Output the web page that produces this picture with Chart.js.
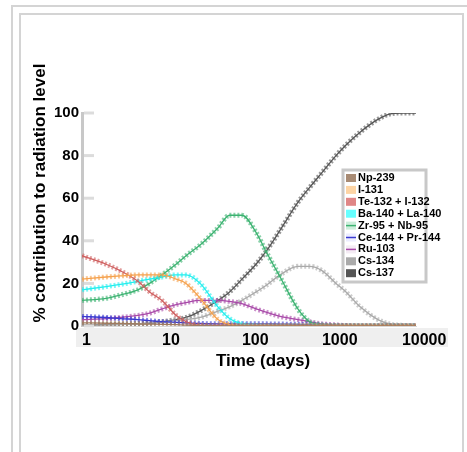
<!DOCTYPE html>
<html>
<head>
<meta charset="utf-8">
<script src="https://cdn.jsdelivr.net/npm/chart.js@4"></script>
<style>
  body { margin: 0; background: #fff; overflow: hidden; }
  .frame1 { position: absolute; left: 11px; top: 5px; width: 470px; height: 470px; border-left: 2px solid #d4d4d4; border-top: 2px solid #d4d4d4; }
  .frame2 { position: absolute; left: 19px; top: 13px; width: 441px; height: 460px; border: 2px solid #d4d4d4; }
  .wrap { position: absolute; left: 0; top: 0; width: 467px; height: 452px; }
</style>
</head>
<body>
<div class="frame1"></div>
<div class="frame2"></div>
<div class="wrap"><canvas id="myChart"></canvas></div>
<script>
// time points (days)
const days = [1, 2, 3, 5, 7, 10, 15, 20, 30, 50, 70, 100, 150, 200, 300, 500, 700, 1000, 1500, 2000, 3000, 5000, 7000, 10000, 15000];

const labels = ["Np-239", "I-131", "Te-132 + I-132", "Ba-140 + La-140", "Zr-95 + Nb-95", "Ce-144 + Pr-144", "Ru-103", "Cs-134", "Cs-137"];
const colors = ["#a07c60", "#f5a24e", "#cf5f5f", "#22eeee", "#3cb371", "#3a3ad0", "#a94aa9", "#aaaaaa", "#555555"];
const swatches = ["#a88b74", "#fdd4a4", "#e08686", "#66ffff", "#cdeedb", "#ececff", "#f4ecf4", "#aaaaaa", "#555555"];

const np239 = [1.5, 1.3, 1.2, 1, 0.9, 0.8, 0.6, 0.4, 0.3, 0.1, 0, 0, 0, 0, 0, 0, 0, 0, 0, 0, 0, 0, 0, 0, 0];
const i131 = [22, 23, 23.5, 24, 24, 24, 22, 20, 13, 3, 0.7, 0, 0, 0, 0, 0, 0, 0, 0, 0, 0, 0, 0, 0, 0];
const te132 = [33, 29, 26, 21, 16, 12, 5, 2, 0.3, 0, 0, 0, 0, 0, 0, 0, 0, 0, 0, 0, 0, 0, 0, 0, 0];
const ba140 = [17, 18.5, 19.5, 21, 22, 23, 24, 24, 20, 9, 3.5, 1, 0.2, 0, 0, 0, 0, 0, 0, 0, 0, 0, 0, 0, 0];
const zr95 = [12, 13, 14.5, 17, 20, 24, 29, 33, 38, 46, 52, 52, 44, 35, 23, 8, 2, 0.5, 0.1, 0, 0, 0, 0, 0, 0];
const ce144 = [4.5, 4, 3.5, 3, 2.5, 2, 1.7, 1.5, 1.2, 1, 1, 1, 1, 1, 0.9, 0.8, 0.6, 0.4, 0.2, 0.1, 0, 0, 0, 0, 0];
const ru103 = [3, 3.5, 4, 5, 6, 8, 10, 11, 12, 12, 11.5, 10.5, 8, 6.5, 4.5, 3, 2, 1, 0.5, 0.2, 0, 0, 0, 0, 0];
const cs134 = [0.3, 0.5, 0.7, 1, 1.5, 2, 2.5, 3, 4, 7, 9, 12, 16, 19, 24, 28, 28, 26, 20, 16, 9, 3, 1, 0.3, 0.1];
const cs137 = [0.5, 0.6, 0.8, 1, 1.3, 2, 3, 4, 7, 12, 16, 22, 29, 35, 45, 58, 65, 72, 80, 85, 91, 97, 99.5, 100, 100];

const series = [np239, i131, te132, ba140, zr95, ce144, ru103, cs134, cs137];
const xTicks = [1, 10, 100, 1000, 10000];
const yTicks = [0, 20, 40, 60, 80, 100];
const xTitle = "Time (days)";
const yTitle = "% contribution to radiation level";

const FONT = "'Liberation Sans', Arial, sans-serif";

const datasets = [];
series.forEach((vals, i) => {
  const pts = vals.map((v, k) => ({ x: days[k], y: v }));
  // dashed thick trace
  datasets.push({
    label: labels[i], data: pts, borderColor: colors[i] + "99", borderWidth: 5,
    borderDash: [2, 2], pointRadius: 0, cubicInterpolationMode: "monotone", fill: false,
  });
  // thin solid trace
  datasets.push({
    label: labels[i] + " ", data: pts, borderColor: colors[i], borderWidth: 1.3,
    pointRadius: 0, cubicInterpolationMode: "monotone", fill: false,
  });
});

const decor = {
  id: "decor",
  beforeDraw(chart) {
    const c = chart.ctx, a = chart.chartArea;
    c.save();
    c.fillStyle = "#efefef";
    c.fillRect(a.left - 6, a.bottom + 2, 372, 19);
    c.restore();
  },
  afterDraw(chart) {
    const c = chart.ctx, y = chart.scales.y, a = chart.chartArea;
    c.save();
    // inside ticks
    c.strokeStyle = "#dcdcdc";
    c.lineWidth = 3;
    yTicks.forEach((t) => {
      const py = y.getPixelForValue(t);
      c.beginPath(); c.moveTo(a.left + 2, py); c.lineTo(a.left + 12, py); c.stroke();
    });
    // axis titles
    c.fillStyle = "#000";
    c.font = "bold 17px " + FONT;
    c.textAlign = "center";
    c.textBaseline = "middle";
    c.fillText(xTitle, 263, 361);
    c.save();
    c.translate(40, 193);
    c.rotate(-Math.PI / 2);
    c.fillText(yTitle, 0, 0);
    c.restore();
    // legend
    const lx = 343, ly = 170, lw = 83, lh = 112;
    c.strokeStyle = "#c8c8c8";
    c.lineWidth = 3;
    c.fillStyle = "#fff";
    c.fillRect(lx, ly, lw, lh);
    c.strokeRect(lx, ly, lw, lh);
    c.font = "bold 11px " + FONT;
    c.textAlign = "left";
    labels.forEach((lab, i) => {
      const ry = ly + 8 + i * 11.9;
      c.fillStyle = swatches[i];
      c.fillRect(lx + 3, ry - 4, 10, 8);
      if (i >= 4 && i <= 6) {
        c.strokeStyle = colors[i]; c.lineWidth = 1.5;
        c.beginPath(); c.moveTo(lx + 3, ry); c.lineTo(lx + 13, ry); c.stroke();
      }
      c.fillStyle = "#000";
      c.fillText(lab, lx + 15, ry);
    });
    c.restore();
  },
};

var ctx = document.getElementById("myChart").getContext("2d");
var myChart = new Chart(ctx, {
  type: "line",
  data: { datasets: datasets },
  plugins: [decor],
  options: {
    responsive: true,
    maintainAspectRatio: false,
    animation: false,
    layout: { padding: { left: 30, top: 113, right: 51, bottom: 78 } },
    plugins: { legend: { display: false }, tooltip: { enabled: false } },
    scales: {
      x: {
        type: "logarithmic",
        min: 1,
        max: 15000,
        afterBuildTicks: (s) => { s.ticks = xTicks.map((v) => ({ value: v })); },
        afterFit: (s) => { s.height = 48; },
        grid: { display: false, drawTicks: false },
        border: { display: true, color: "#d8d8d8", width: 1 },
        ticks: {
          color: "#000", padding: 5, maxRotation: 0, autoSkip: false, align: "start",
          font: { family: FONT, size: 16, weight: "bold" },
          callback: (v) => String(v),
        },
      },
      y: {
        min: 0,
        max: 100,
        afterBuildTicks: (s) => { s.ticks = yTicks.map((v) => ({ value: v })); },
        afterFit: (s) => { s.width = 52; },
        grid: { display: false, drawTicks: false },
        border: { display: true, color: "#c8c8c8", width: 3 },
        ticks: {
          color: "#000", padding: 3,
          font: { family: FONT, size: 15, weight: "bold" },
        },
      },
    },
  },
});
</script>
</body>
</html>
